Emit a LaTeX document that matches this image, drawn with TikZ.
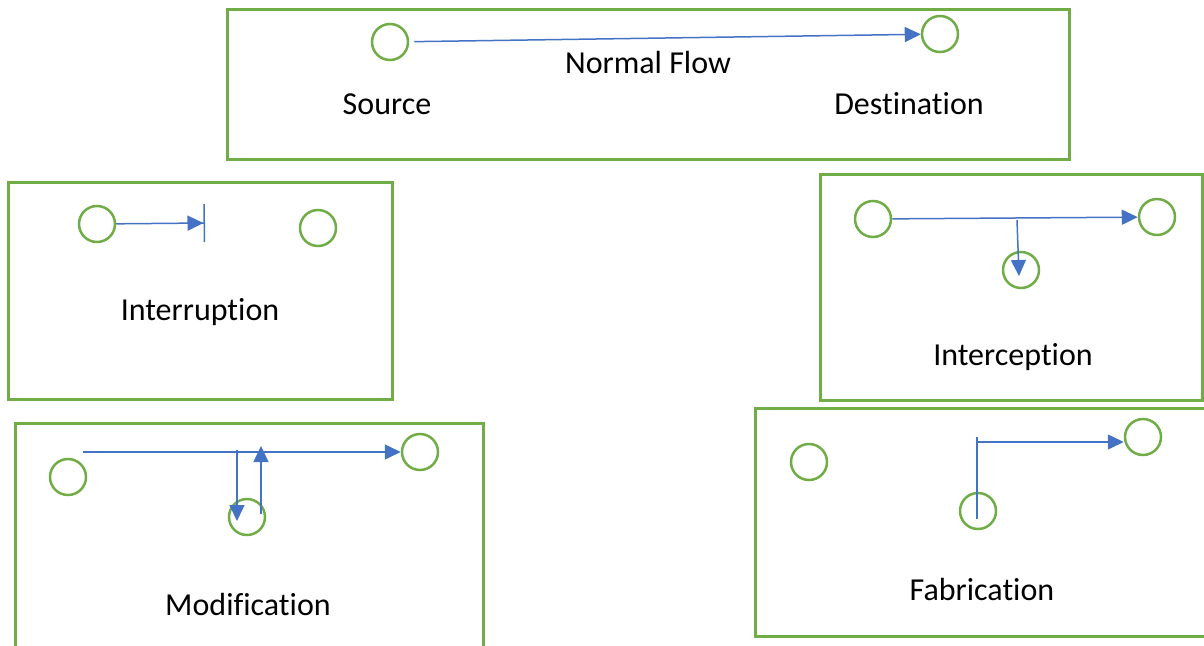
\documentclass[tikz,border=0pt]{standalone}
\usepackage{fontspec}
\setmainfont{Carlito}[Ligatures={NoCommon,NoRare}]
\usetikzlibrary{arrows.meta}
\definecolor{boxgreen}{HTML}{70AD47}
\definecolor{flowblue}{HTML}{4472C4}
\begin{document}
\begin{tikzpicture}[x=1pt,y=-1pt,
  panel/.style={draw=boxgreen,line width=3pt},
  host/.style={circle,draw=boxgreen,line width=2.5pt,minimum size=36pt,inner sep=0pt},
  wire/.style={draw=flowblue,line width=1.5pt},
  flow/.style={wire,-{Triangle[length=16pt,width=15pt]}},
  lbl/.style={anchor=base,font=\fontsize{32}{38}\selectfont}]
\clip (0,0) rectangle (1204,645);
\draw[panel] (227,9) rectangle (1069,159);
\draw[panel] (8,182) rectangle (392,399);
\draw[panel] (820,174) rectangle (1202,400);
\draw[panel] (15,423) rectangle (483,660);
\draw[panel] (755,408) rectangle (1215,636);
%%%% normal flow
\node[host] (src) at (390,42) {};
\node[host] (dst) at (940,34) {};
\draw[flow,shorten <=5pt] (src) -- (dst);
\node[lbl] (nflow) at (648,73) {Normal Flow};
\node[lbl] (srclbl) at (387,114) {Source};
\node[lbl] (dstlbl) at (909,114) {Destination};
%%%% interruption
\node[host] (ia) at (97,224) {};
\node[host] (ib) at (318,228) {};
\coordinate (icut) at (205,223);
\draw[wire,-{Triangle[length=16pt,width=15pt]Bar[width=38pt]}] (ia) -- (icut);
\node[lbl] (ilbl) at (200,320) {Interruption};
%%%% interception
\node[host] (ta) at (873,219) {};
\node[host] (tb) at (1157,217) {};
\node[host] (tc) at (1021,270) {};
\draw[flow] (ta) -- (tb);
\coordinate (ttap) at (1017,220);
\coordinate (tend) at (1019,276);
\draw[flow] (ttap) -- (tend);
\node[lbl] (tlbl) at (1013,365) {Interception};
%%%% modification
\node[host] (ma) at (68,477) {};
\node[host] (mb) at (420,452) {};
\node[host] (mc) at (247,517) {};
\coordinate (mstart) at (83,452);
\draw[flow] (mstart) -- (mb);
\coordinate (mdown) at (237,450);
\coordinate (mdownend) at (237,521);
\draw[flow] (mdown) -- (mdownend);
\coordinate (mup) at (261,514);
\coordinate (mupend) at (261,446);
\draw[flow] (mup) -- (mupend);
\node[lbl] (mlbl) at (248,615) {Modification};
%%%% fabrication
\node[host] (fa) at (809,462) {};
\node[host] (fb) at (1143,437) {};
\node[host] (fc) at (978,511) {};
\coordinate (fbottom) at (977,519);
\coordinate (fcorner) at (977,437);
\draw[wire] (fbottom) -- (fcorner);
\coordinate (fturn) at (977,442);
\draw[flow] (fturn) -- (fturn -| fb.west);
\node[lbl] (flbl) at (982,600) {Fabrication};
\end{tikzpicture}
\end{document}
